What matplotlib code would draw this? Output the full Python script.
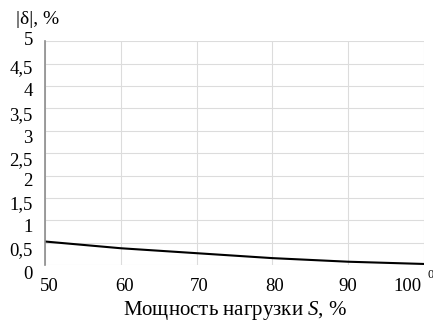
import matplotlib
matplotlib.use('Agg')
import matplotlib.pyplot as plt
import matplotlib.transforms as mtransforms

plt.rcParams['font.family'] = ['Liberation Serif', 'DejaVu Serif']
plt.rcParams['mathtext.fontset'] = 'custom'
plt.rcParams['mathtext.it'] = 'Liberation Serif:italic'
plt.rcParams['mathtext.rm'] = 'Liberation Serif'

# load power, % and absolute deviation |delta|, %
load = [50, 60, 70, 80, 90, 100]
delta = [0.53, 0.38, 0.27, 0.16, 0.08, 0.03]

x_ticks = [50, 60, 70, 80, 90, 100]
y_ticks = [0, 0.5, 1, 1.5, 2, 2.5, 3, 3.5, 4, 4.5, 5]
y_labels = ['0', '0,5', '1', '1,5', '2', '2,5', '3', '3,5', '4', '4,5', '5']

fig = plt.figure(figsize=(4.33, 3.21), dpi=100)
ax = fig.add_axes([0.1046, 0.1735, 0.979 - 0.1046, 0.872 - 0.1735])

ax.plot(load, delta, color='black', lw=1.5, zorder=3)

ax.set_xlim(50, 100)
ax.set_ylim(0, 5)
ax.set_xticks(x_ticks)
ax.set_xticklabels([str(v) for v in x_ticks], fontsize=13.5)
ax.set_yticks(y_ticks)
ax.set_yticklabels(y_labels, fontsize=13.5)
ax.tick_params(length=0, pad=9)
ax.tick_params(axis='x', pad=9)

ax.grid(True, color='#dcdcdc', lw=0.8)
for s in ('top', 'right', 'bottom'):
    ax.spines[s].set_visible(False)
ax.spines['left'].set_color('#8c8c8c')
ax.spines['left'].set_linewidth(1.2)
ax.spines['left'].set_zorder(4)

# nudge tick labels (pixel offsets)
x_off = [4, 4, 2, 2, 0, -16]
for lab, dx in zip(ax.get_xticklabels(), x_off):
    lab.set_transform(lab.get_transform() +
                      mtransforms.ScaledTranslation(dx / 100, 0, fig.dpi_scale_trans))
y_off = [-7, -6, -5, -5, -4, -5, -6, -5, -4, -3, 3]
for lab, dy in zip(ax.get_yticklabels(), y_off):
    lab.set_transform(lab.get_transform() +
                      mtransforms.ScaledTranslation(0, dy / 100, fig.dpi_scale_trans))

fig.text(16 / 433, 1 - 19 / 321, '|δ|, %', fontsize=14, ha='left', va='center')
fig.text(235 / 433, 1 - 311 / 321, 'Мощность нагрузки $\\mathit{S}$, %',
         fontsize=15, ha='center', va='center')
fig.text(427 / 433, 1 - 275 / 321, '0', fontsize=9, ha='left', va='center')

fig.savefig('out.png', dpi=100, facecolor='white')
